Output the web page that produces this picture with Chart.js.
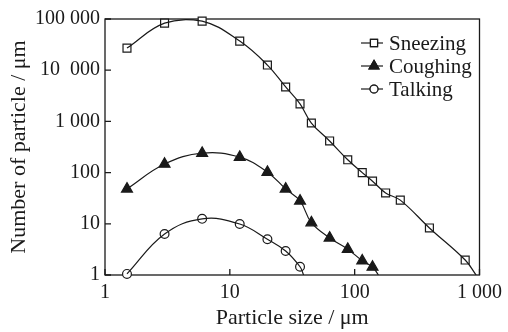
<!DOCTYPE html>
<html lang="en">
<head>
<meta charset="UTF-8">
<title>Particle size distribution</title>
<script src="https://cdn.jsdelivr.net/npm/chart.js"></script>
<style>
    html, body { margin: 0; padding: 0; background: #fff; }
    .chart-container { position: relative; width: 508px; height: 332px; }
</style>
</head>
<body>
<div class="chart-container"><canvas id="particleChart"></canvas></div>
<script>
const sizes = [1.5, 3, 6, 12, 20, 28, 36.5, 45, 63, 88, 115, 139, 177, 232, 397, 768];
const sneezing = [27000, 83000, 91000, 37000, 12600, 4700, 2200, 930, 415, 178, 100, 68, 40, 29, 8.3, 1.96];
const coughing = [48, 147, 240, 200, 102, 48, 28, 10.5, 5.3, 3.2, 1.9, 1.43];
const talking = [1.05, 6.3, 12.5, 9.9, 5.0, 2.95, 1.45];
// size where each fitted curve runs into the x axis
const curveEnds = [940, 155, 39];

const xTicks = [1, 10, 100, 1000];
const xTickLabels = ['1', '10', '100', '1 000'];
const yTicks = [1, 10, 100, 1000, 10000, 100000];
const yTickLabels = ['1', '10', '100', '1 000', '10  000', '100 000'];

const FONT = "'Liberation Serif', 'Times New Roman', serif";
const INK = '#1a1a1a';

const series = [
    { label: 'Sneezing', values: sneezing, style: 'rect', radius: 5.6, fill: '#fff' },
    { label: 'Coughing', values: coughing, style: 'triangle', radius: 6.3, fill: INK },
    { label: 'Talking', values: talking, style: 'circle', radius: 4.4, fill: '#fff' }
];

const datasets = [];
series.forEach((s, k) => {
    const pts = s.values.map((v, i) => ({ x: sizes[i], y: v }));
    datasets.push({
        label: s.label + ' curve',
        data: pts.concat([{ x: curveEnds[k], y: 1 }]),
        showLine: true,
        tension: 0.4,
        borderColor: INK,
        borderWidth: 1.2,
        pointRadius: 0,
        pointHoverRadius: 0
    });
    datasets.push({
        label: s.label,
        data: pts,
        showLine: false,
        pointStyle: s.style,
        pointRadius: s.radius,
        pointBackgroundColor: s.fill,
        pointBorderColor: INK,
        pointBorderWidth: 1.2,
        clip: false
    });
});

// box round the plot and short inward ticks
const frameAndTicks = {
    id: 'frameAndTicks',
    beforeDatasetsDraw(chart) {
        const { ctx, chartArea: a, scales: { x, y } } = chart;
        ctx.save();
        ctx.strokeStyle = INK;
        ctx.lineWidth = 1.3;
        ctx.strokeRect(a.left, a.top, a.right - a.left, a.bottom - a.top);
        ctx.beginPath();
        xTicks.forEach(v => {
            const px = x.getPixelForValue(v);
            ctx.moveTo(px, a.bottom);
            ctx.lineTo(px, a.bottom - 6);
        });
        yTicks.forEach(v => {
            const py = y.getPixelForValue(v);
            ctx.moveTo(a.left, py);
            ctx.lineTo(a.left + 6, py);
        });
        ctx.stroke();
        ctx.restore();
    }
};

// legend: short line with the marker on it, then the name
const lineLegend = {
    id: 'lineLegend',
    afterDraw(chart) {
        const ctx = chart.ctx;
        ctx.save();
        ctx.font = '21px ' + FONT;
        ctx.textBaseline = 'middle';
        series.forEach((s, i) => {
            const y = 43 + i * 23;
            ctx.strokeStyle = INK;
            ctx.lineWidth = 1.2;
            ctx.beginPath();
            ctx.moveTo(361, y);
            ctx.lineTo(383, y);
            ctx.stroke();
            ctx.fillStyle = s.fill;
            Chart.helpers.drawPoint(ctx, { pointStyle: s.style, radius: s.radius * 0.9, rotation: 0, borderWidth: 1.2 }, 374, y);
            ctx.fill();
            ctx.stroke();
            ctx.fillStyle = INK;
            ctx.fillText(s.label, 389, y + 1);
        });
        ctx.restore();
    }
};

const ctx = document.getElementById('particleChart').getContext('2d');
new Chart(ctx, {
    type: 'scatter',
    data: { datasets },
    options: {
        responsive: true,
        maintainAspectRatio: false,
        animation: false,
        layout: { padding: { top: 19, right: 25, left: 0, bottom: 0 } },
        plugins: {
            legend: { display: false },
            tooltip: { enabled: false }
        },
        scales: {
            x: {
                type: 'logarithmic',
                min: 1,
                max: 1000,
                afterBuildTicks: scale => { scale.ticks = xTicks.map(v => ({ value: v })); },
                afterFit: scale => { scale.height = 57; },
                grid: { display: false, drawTicks: false },
                border: { display: false },
                ticks: {
                    autoSkip: false,
                    maxRotation: 0,
                    padding: 6,
                    color: INK,
                    font: { family: FONT, size: 20 },
                    callback: v => xTickLabels[xTicks.indexOf(v)]
                },
                title: {
                    display: true,
                    text: 'Particle size / μm',
                    color: INK,
                    font: { family: FONT, size: 22 },
                    padding: { top: 0, bottom: 1 }
                }
            },
            y: {
                type: 'logarithmic',
                min: 1,
                max: 100000,
                afterBuildTicks: scale => { scale.ticks = yTicks.map(v => ({ value: v })); },
                afterFit: scale => { scale.width = 105; },
                grid: { display: false, drawTicks: false },
                border: { display: false },
                ticks: {
                    autoSkip: false,
                    padding: 5,
                    color: INK,
                    font: { family: FONT, size: 20 },
                    callback: v => yTickLabels[yTicks.indexOf(v)]
                },
                title: {
                    display: true,
                    text: 'Number of particle / μm',
                    color: INK,
                    font: { family: FONT, size: 22 },
                    padding: { top: 6, bottom: 0 }
                }
            }
        }
    },
    plugins: [frameAndTicks, lineLegend]
});
</script>
</body>
</html>
